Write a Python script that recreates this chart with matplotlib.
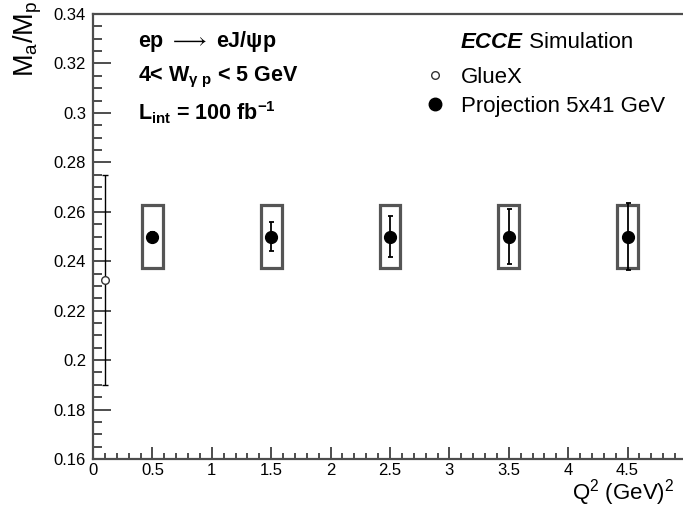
import matplotlib
matplotlib.use("Agg")
import matplotlib.pyplot as plt
from matplotlib.patches import Rectangle
from matplotlib.lines import Line2D

plt.rcParams['font.family'] = ['Liberation Sans', 'DejaVu Sans']
plt.rcParams['mathtext.fontset'] = 'custom'
plt.rcParams['mathtext.rm'] = 'Liberation Sans'
plt.rcParams['mathtext.it'] = 'Liberation Sans:italic'
plt.rcParams['mathtext.bf'] = 'Liberation Sans:bold'

# GlueX point
gluex_q2 = [0.1]
gluex_val = [0.2325]
gluex_err = [0.0425]

# Projection 5x41 GeV
proj_q2 = [0.5, 1.5, 2.5, 3.5, 4.5]
proj_val = [0.25, 0.25, 0.25, 0.25, 0.25]
proj_stat = [0.002, 0.006, 0.0084, 0.011, 0.0135]
proj_sys = [0.0127, 0.0127, 0.0127, 0.0127, 0.0127]
box_halfwidth = 0.087

xticks = [0, 0.5, 1, 1.5, 2, 2.5, 3, 3.5, 4, 4.5]
xticklabels = ['0', '0.5', '1', '1.5', '2', '2.5', '3', '3.5', '4', '4.5']
yticks = [0.16, 0.18, 0.2, 0.22, 0.24, 0.26, 0.28, 0.3, 0.32, 0.34]
yticklabels = ['0.16', '0.18', '0.2', '0.22', '0.24', '0.26', '0.28', '0.3', '0.32', '0.34']

W, H = 683, 508
fig = plt.figure(figsize=(W / 100, H / 100), dpi=100)
ax = fig.add_axes([93 / W, (H - 459) / H, (687 - 93) / W, (459 - 14) / H])
ax.set_xlim(0, 5)
ax.set_ylim(0.16, 0.34)

spine_c = '#4d4d4d'
for s in ['left', 'bottom', 'top']:
    ax.spines[s].set_color(spine_c)
    ax.spines[s].set_linewidth(1.6)
ax.spines['right'].set_visible(False)

ax.set_xticks(xticks)
ax.set_xticklabels(xticklabels)
ax.set_yticks(yticks)
ax.set_yticklabels(yticklabels)
ax.set_xticks([i * 0.1 for i in range(51)], minor=True)
ax.set_yticks([0.16 + i * 0.005 for i in range(37)], minor=True)
ax.tick_params(which='both', direction='in', width=1.4, color=spine_c,
               labelsize=12, top=False, right=False)
ax.tick_params(axis='x', which='major', length=9, pad=3)
ax.tick_params(axis='x', which='minor', length=4.5)
ax.tick_params(axis='y', which='major', length=13, pad=5)
ax.tick_params(axis='y', which='minor', length=6.5)

# systematic boxes
for x, y, s in zip(proj_q2, proj_val, proj_sys):
    ax.add_patch(Rectangle((x - box_halfwidth, y - s), 2 * box_halfwidth, 2 * s,
                           facecolor='none', edgecolor='#555555', linewidth=2.3, zorder=2))

ax.errorbar(proj_q2, proj_val, yerr=proj_stat, fmt='o', color='black', ms=8.5,
            elinewidth=1.3, capsize=1.8, capthick=1.3, zorder=4)
ax.errorbar(gluex_q2, gluex_val, yerr=gluex_err, fmt='o', color='black', mfc='white',
            mec='#333333', mew=1.0, ms=5.5, elinewidth=1.0, capsize=2.0, capthick=1.0, zorder=4)

# annotations
tkw = dict(fontsize=15.5, fontweight='bold', ha='left', va='center')
fig.text(138 / W, 1 - 42 / H, 'ep $\\longrightarrow$ eJ/\u03c8p', **tkw)
fig.text(138 / W, 1 - 77 / H, r'4< W$_{\mathregular{\gamma\ p}}$ < 5 GeV', **tkw)
fig.text(138 / W, 1 - 113 / H, r'L$_{\mathbf{int}}$ = 100 fb$^{\mathbf{-1}}$', **tkw)

t1 = fig.text(461 / W, 1 - 42 / H, 'ECCE', fontsize=16, fontweight='bold',
              fontstyle='italic', ha='left', va='center')
ax.annotate(' Simulation', xy=(1, 0.5), xycoords=t1, fontsize=16,
            ha='left', va='center')

handles = [Line2D([], [], marker='o', ls='none', mfc='white', mec='#333333', mew=1.0,
                  ms=5.5, color='black'),
           Line2D([], [], marker='o', ls='none', color='black', ms=9)]
ax.legend(handles, ['GlueX', 'Projection 5x41 GeV'], loc='upper left',
          bbox_to_anchor=(424 / W, 1 - 67 / H), bbox_transform=fig.transFigure,
          frameon=False, fontsize=16, handlelength=1.0, handletextpad=0.65,
          labelspacing=0.35, borderpad=0, borderaxespad=0)

fig.text(28 / W, 1 - 1 / H, r'M$_{\mathregular{a}}$/M$_{\mathregular{p}}$', rotation=90,
         fontsize=19.5, ha='center', va='top')
fig.text(572 / W, 0 / H, r'Q$^{\mathregular{2}}$ (GeV)$^{\mathregular{2}}$',
         fontsize=16, ha='left', va='bottom')

fig.savefig('out.png', dpi=100)
